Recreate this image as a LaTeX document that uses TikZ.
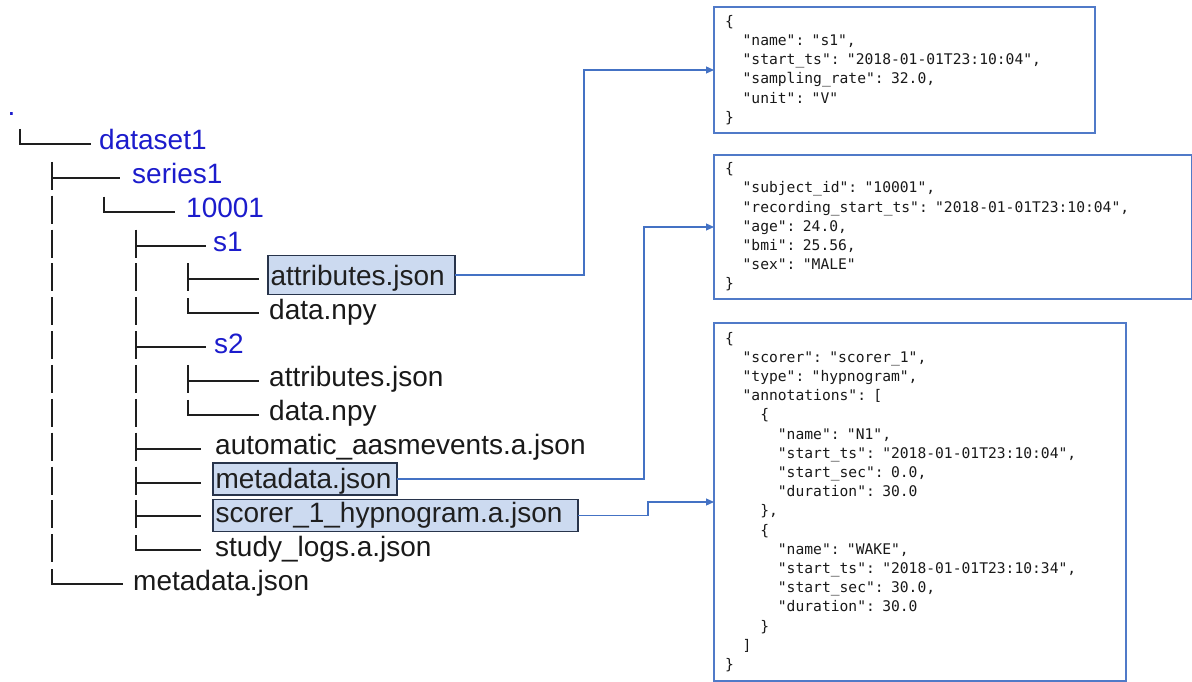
\documentclass[tikz,border=0pt]{standalone}
\usepackage{fontspec}
\setmainfont{Liberation Sans}
\newfontfamily\jsonfont{DejaVu Sans Mono}
\usetikzlibrary{arrows.meta}
\setlength{\parindent}{0pt}
\definecolor{dirblue}{RGB}{28,28,204}
\definecolor{treegray}{RGB}{30,30,30}
\definecolor{hlfill}{RGB}{204,218,240}
\definecolor{hlborder}{RGB}{40,52,75}
\definecolor{boxblue}{RGB}{80,122,200}
\definecolor{connblue}{RGB}{68,114,196}
\newcommand\treefont{\fontsize{28}{33}\selectfont}
\newcommand\by[1]{150+33.85*#1}
\newcommand\treeTee[3]{\pgfmathsetmacro\tb{150+33.85*(#2)}\draw[treeline] (#1,\tb-22) -- (#1,\tb+6) (#1,\tb-6) -- (#3,\tb-6);}
\newcommand\treeEll[3]{\pgfmathsetmacro\tb{150+33.85*(#2)}\draw[treeline] (#1,\tb-21) -- (#1,\tb-6) -- (#3,\tb-6);}
\newcommand\treeBar[2]{\pgfmathsetmacro\tb{150+33.85*(#2)}\draw[treeline] (#1,\tb-22) -- (#1,\tb+6);}
\newcommand\jIa{\phantom{xx}}
\newcommand\jIb{\phantom{xxxx}}
\newcommand\jIc{\phantom{xxxxxx}}
\tikzset{
  treeline/.style={line width=2pt, draw=treegray},
  dirtext/.style={anchor=base west, inner sep=0pt, text=dirblue, font=\treefont},
  filetext/.style={anchor=base west, inner sep=0pt, text=black!90, font=\treefont},
  hl/.style={anchor=base west, fill=hlfill, draw=hlborder, line width=1.3pt, outer sep=0pt,
    inner xsep=2.5pt, inner ysep=0pt, align=left, font=\treefont, text=black!88},
  jsonbox/.style={draw=boxblue, line width=1.4pt, anchor=north west, outer sep=0pt,
    inner xsep=11pt, inner ysep=0pt, align=left, text=black!90,
    font=\jsonfont\fontsize{14.65}{19.2}\selectfont},
  conn/.style={draw=connblue, line width=1.2pt, -{Triangle[length=8pt,width=7pt]}},
}
\begin{document}
\begin{tikzpicture}[x=1pt,y=-1pt]
\useasboundingbox (0,0) rectangle (1192,682);

% ---- tree connectors
\treeEll{20}{0}{91}
\treeTee{52}{1}{120}
\foreach \i in {2,...,12}{\treeBar{52}{\i}}
\treeEll{52}{13}{123}
\treeEll{104}{2}{175}
\treeTee{136}{3}{206}
\treeBar{136}{4}
\treeBar{136}{5}
\treeTee{136}{6}{206}
\treeBar{136}{7}
\treeBar{136}{8}
\treeTee{136}{9}{201}
\treeTee{136}{10}{201}
\treeTee{136}{11}{201}
\treeEll{136}{12}{201}
\treeTee{188}{4}{259}
\treeEll{188}{5}{259}
\treeTee{188}{7}{259}
\treeEll{188}{8}{259}

% ---- tree texts
\node[dirtext] (root) at (7.5,116) {.};
\node[dirtext] (dataset) at (99,\by{0}) {dataset1};
\node[dirtext] (series) at (132,\by{1}) {series1};
\node[dirtext] (subj) at (186,\by{2}) {10001};
\node[dirtext] (sone) at (213,\by{3}) {s1};
\node[hl, text width=182pt, text height=30pt, text depth=9pt] (attrhl) at (268,\by{4}) {attributes.json};
\node[filetext] (dataone) at (269,\by{5}) {data.npy};
\node[dirtext] (stwo) at (214,\by{6}) {s2};
\node[filetext] (attrtwo) at (269,\by{7}) {attributes.json};
\node[filetext] (datatwo) at (269,\by{8}) {data.npy};
\node[filetext] (auto) at (215,\by{9}) {automatic\_aasmevents.a.json};
\node[hl, text width=179pt, text height=25.5pt, text depth=6.5pt] (metahl) at (213,\by{10}) {metadata.json};
\node[hl, text width=360pt, text height=23pt, text depth=9pt] (scorerhl) at (213,\by{11}) {scorer\_1\_hypnogram.a.json};
\node[filetext] (study) at (215,\by{12}) {study\_logs.a.json};
\node[filetext] (meta) at (133,\by{13}) {metadata.json};

% ---- JSON boxes
\node[jsonbox, text width=359pt, minimum width=381pt, minimum height=126pt] (box1) at (714,7) {%
\{\\
\jIa"name": "s1",\\
\jIa"start\_ts": "2018-01-01T23:10:04",\\
\jIa"sampling\_rate": 32.0,\\
\jIa"unit": "V"\\
\}};
\node[jsonbox, text width=456pt, minimum width=478pt, minimum height=144pt] (box2) at (714,155) {%
\{\\
\jIa"subject\_id": "10001",\\
\jIa"recording\_start\_ts": "2018-01-01T23:10:04",\\
\jIa"age": 24.0,\\
\jIa"bmi": 25.56,\\
\jIa"sex": "MALE"\\
\}};
\node[jsonbox, text width=390pt, minimum width=412pt, minimum height=358pt] (box3) at (714,323) {%
\{\\
\jIa"scorer": "scorer\_1",\\
\jIa"type": "hypnogram",\\
\jIa"annotations": [\\
\jIb\{\\
\jIc"name": "N1",\\
\jIc"start\_ts": "2018-01-01T23:10:04",\\
\jIc"start\_sec": 0.0,\\
\jIc"duration": 30.0\\
\jIb\},\\
\jIb\{\\
\jIc"name": "WAKE",\\
\jIc"start\_ts": "2018-01-01T23:10:34",\\
\jIc"start\_sec": 30.0,\\
\jIc"duration": 30.0\\
\jIb\}\\
\jIa]\\
\}};

% ---- connectors
\coordinate (bendA) at (584,70);
\coordinate (bendB) at (644,227);
\coordinate (bendC) at (648,502);
\draw[conn] (attrhl.east) -| (bendA) -- (box1.west);
\draw[conn] (metahl.east) -| (bendB) -- (box2.west);
\draw[conn] (scorerhl.east) -| (bendC) -- (box3.west);
\end{tikzpicture}
\end{document}
